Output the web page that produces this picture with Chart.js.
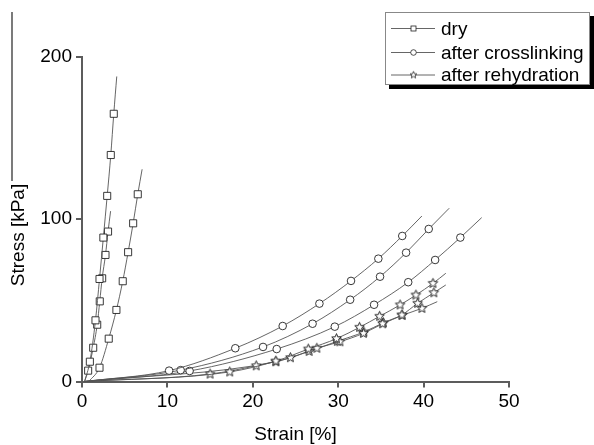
<!DOCTYPE html>
<html>
<head>
<meta charset="utf-8">
<script src="https://cdn.jsdelivr.net/npm/chart.js@4"></script>
<style>
  html, body { margin: 0; padding: 0; background: #fff; }
</style>
</head>
<body>
<canvas id="chart" width="594" height="445"></canvas>
<script>
// stress-strain curves, values (strain %, stress kPa)
const dryA_x = [0.3, 0.92, 1.58, 2.05, 2.5, 2.95, 3.37, 3.72, 4.07];
const dryA_y = [0, 12.2, 37.7, 63.2, 88.7, 114.4, 139.6, 165, 188];
const dryB_x = [0.3, 0.72, 1.31, 1.78, 2.08, 2.36, 2.75, 3.05, 3.35];
const dryB_y = [0, 6.7, 20.8, 35, 49.4, 63.6, 78, 92.4, 105];
const dryC_x = [0.8, 2.05, 3.13, 4.03, 4.77, 5.4, 5.99, 6.53, 7.04];
const dryC_y = [0, 8.5, 26.4, 44.1, 61.8, 79.7, 97.5, 115.4, 130.8];

const crossA_x = [0.3, 10.2, 17.95, 23.5, 27.8, 31.5, 34.7, 37.5, 39.8];
const crossA_y = [0, 6.7, 20.5, 34.2, 48, 62, 75.7, 89.7, 102];
const crossB_x = [0.3, 11.55, 21.2, 27.0, 31.4, 34.9, 37.95, 40.6, 43.0];
const crossB_y = [0, 7.0, 21.3, 35.6, 50.4, 64.6, 79.4, 94, 106.8];
const crossC_x = [0.3, 12.6, 22.8, 29.6, 34.2, 38.2, 41.35, 44.3, 46.8];
const crossC_y = [0, 6.5, 20.0, 33.8, 47.3, 61.2, 74.9, 88.7, 101];

const rehydA_x = [0.3, 17.3, 22.7, 26.5, 29.8, 32.5, 34.85, 37.25, 39.1, 41.1, 42.6];
const rehydA_y = [0, 5.9, 12.6, 20.0, 26.4, 33.4, 40.2, 47.2, 53.3, 60.5, 66.7];
const rehydB_x = [0.3, 15.0, 20.4, 24.4, 27.5, 30.2, 32.95, 35.2, 37.45, 39.3, 41.2, 42.6];
const rehydB_y = [0, 4.6, 9.7, 14.7, 20.5, 24.5, 29.7, 35.6, 41, 48.2, 54.7, 59.5];
const rehydC_x = [0.3, 22.7, 26.6, 29.9, 33.0, 35.3, 37.5, 39.8, 41.6];
const rehydC_y = [0, 12.2, 18.6, 24.8, 30.5, 36.2, 40.8, 45.1, 49.2];

const xTicks = [0, 10, 20, 30, 40, 50];
const yTicks = [0, 100, 200];
const legendLabels = ['dry', 'after crosslinking', 'after rehydration'];

const FONT = "'Liberation Sans', Arial, sans-serif";
const LINE = '#555';
const MARK = '#222';
const AXIS = '#5c5c5c';

function starCanvas(R, lw) {
  const s = Math.ceil(R * 2 + 3);
  const c = document.createElement('canvas');
  c.width = s; c.height = s;
  const g = c.getContext('2d');
  const r = R * 0.45;
  g.beginPath();
  for (let i = 0; i < 10; i++) {
    const a = -Math.PI / 2 + i * Math.PI / 5;
    const rr = i % 2 ? r : R;
    const px = s / 2 + rr * Math.cos(a), py = s / 2 + rr * Math.sin(a);
    if (i === 0) g.moveTo(px, py); else g.lineTo(px, py);
  }
  g.closePath();
  g.fillStyle = '#fff';
  g.fill();
  g.lineWidth = lw;
  g.strokeStyle = MARK;
  g.stroke();
  return c;
}
const STAR = starCanvas(5, 1);
const STAR_SMALL = starCanvas(3.6, 0.8);

function pts(xs, ys) { return xs.map((x, i) => ({ x: x, y: ys[i] })); }
function radii(n, r) { return Array.from({ length: n }, (_, i) => (i === 0 || i === n - 1) ? 0 : r); }

function series(xs, ys, style, r) {
  return {
    data: pts(xs, ys),
    showLine: true,
    borderColor: LINE,
    borderWidth: 0.9,
    cubicInterpolationMode: 'monotone',
    pointStyle: style,
    pointRadius: radii(xs.length, r),
    pointHoverRadius: radii(xs.length, r),
    pointBackgroundColor: '#fff',
    pointBorderColor: MARK,
    pointBorderWidth: 0.9
  };
}

const datasets = [
  series(dryA_x, dryA_y, 'rect', 5),
  series(dryB_x, dryB_y, 'rect', 5),
  series(dryC_x, dryC_y, 'rect', 5),
  series(crossA_x, crossA_y, 'circle', 3.8),
  series(crossB_x, crossB_y, 'circle', 3.8),
  series(crossC_x, crossC_y, 'circle', 3.8),
  series(rehydA_x, rehydA_y, STAR, 5),
  series(rehydB_x, rehydB_y, STAR, 5),
  series(rehydC_x, rehydC_y, STAR, 5)
];

// legend box, y-axis title and the stray rule at the far left
const decorations = {
  id: 'decorations',
  afterDraw(chart) {
    const ctx = chart.ctx;
    ctx.save();
    ctx.globalAlpha = 1;
    ctx.globalCompositeOperation = 'source-over';
    ctx.setLineDash([]);

    // stray vertical rule
    ctx.strokeStyle = '#333';
    ctx.lineWidth = 1.3;
    ctx.beginPath();
    ctx.moveTo(12, 12);
    ctx.lineTo(12, 181);
    ctx.stroke();

    // y title
    ctx.save();
    ctx.translate(19, 235);
    ctx.rotate(-Math.PI / 2);
    ctx.fillStyle = '#000';
    ctx.font = '19px ' + FONT;
    ctx.textAlign = 'center';
    ctx.textBaseline = 'middle';
    ctx.fillText('Stress [kPa]', 0, 0);
    ctx.restore();

    // legend: black drop shadow, then the box on top of it
    const bx = 385, by = 12, bw = 205, bh = 73;
    ctx.fillStyle = 'rgb(0,0,0)';
    ctx.fillRect(bx + 4, by + 4, bw, bh);
    ctx.fillStyle = 'rgb(255,255,255)';
    ctx.fillRect(bx, by, bw, bh);
    ctx.strokeStyle = '#888';
    ctx.lineWidth = 1;
    ctx.strokeRect(bx + 0.5, by + 0.5, bw - 1, bh - 1);

    const rows = [28.5, 52.5, 75];
    rows.forEach((ry, i) => {
      ctx.strokeStyle = LINE;
      ctx.lineWidth = 0.9;
      ctx.beginPath();
      ctx.moveTo(391, ry);
      ctx.lineTo(435, ry);
      ctx.stroke();
      ctx.fillStyle = '#fff';
      ctx.strokeStyle = MARK;
      ctx.lineWidth = 0.8;
      if (i === 0) {
        ctx.fillRect(411, ry - 2.5, 5, 5);
        ctx.strokeRect(411, ry - 2.5, 5, 5);
      } else if (i === 1) {
        ctx.beginPath();
        ctx.arc(413.5, ry, 2.8, 0, Math.PI * 2);
        ctx.fill();
        ctx.stroke();
      } else {
        ctx.drawImage(STAR_SMALL, 413.5 - STAR_SMALL.width / 2, ry - STAR_SMALL.height / 2);
      }
      ctx.fillStyle = '#000';
      ctx.font = '19px ' + FONT;
      ctx.textAlign = 'left';
      ctx.textBaseline = 'middle';
      ctx.fillText(legendLabels[i], 441, ry + 1);
    });
    ctx.restore();
  }
};

new Chart(document.getElementById('chart'), {
  type: 'scatter',
  data: { datasets: datasets },
  plugins: [decorations],
  options: {
    responsive: false,
    animation: false,
    events: [],
    layout: { padding: { left: 0, top: 57, right: 85, bottom: 0 } },
    plugins: { legend: { display: false }, tooltip: { enabled: false } },
    scales: {
      x: {
        type: 'linear',
        min: 0, max: 50,
        afterFit: s => { s.height = 63.5; },
        afterBuildTicks: s => { s.ticks = xTicks.map(v => ({ value: v })); },
        ticks: { color: '#000', font: { size: 19, family: FONT }, padding: 3, maxRotation: 0 },
        grid: { drawOnChartArea: false, tickLength: 6, color: AXIS, lineWidth: 2 },
        border: { display: true, color: AXIS, width: 2 },
        title: {
          display: true, text: 'Strain [%]', color: '#000',
          font: { size: 19, family: FONT, lineHeight: 1 },
          padding: { top: 0, bottom: 0.5 }
        }
      },
      y: {
        type: 'linear',
        min: 0, max: 200,
        afterFit: s => { s.width = 82; },
        afterBuildTicks: s => { s.ticks = yTicks.map(v => ({ value: v })); },
        ticks: { color: '#000', font: { size: 19, family: FONT }, padding: 4 },
        grid: { drawOnChartArea: false, tickLength: 6, color: AXIS, lineWidth: 2 },
        border: { display: true, color: AXIS, width: 2 }
      }
    }
  }
});
</script>
</body>
</html>
